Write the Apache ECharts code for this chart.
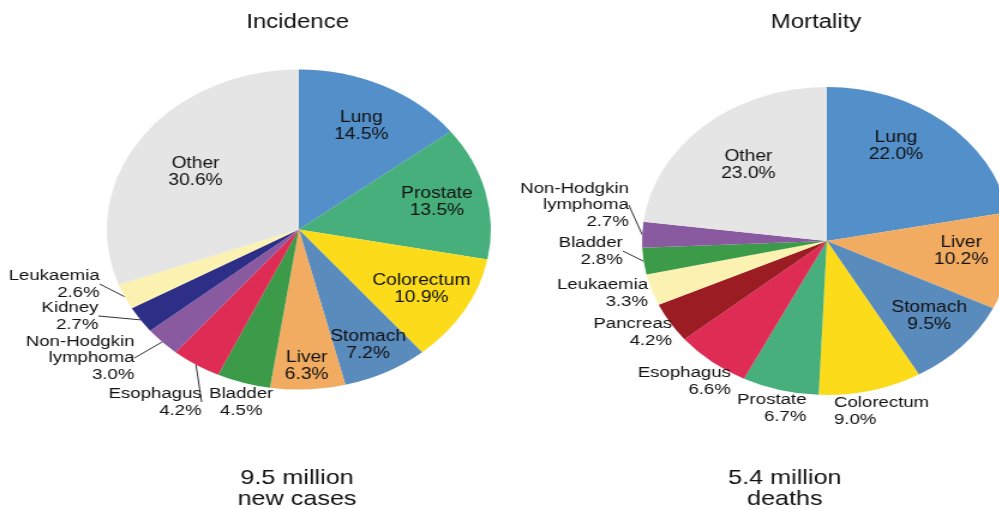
<!DOCTYPE html>
<html>
<head>
<meta charset="utf-8">
<title>Cancer incidence and mortality</title>
<script src="https://cdn.jsdelivr.net/npm/echarts@6/dist/echarts.min.js"></script>
<style>
  html, body { margin: 0; padding: 0; background: #fff; width: 999px; height: 509px; overflow: hidden; }
  /* the source figure is stretched 1.2x horizontally, so draw narrow and stretch */
  #chart { width: 833px; height: 509px; transform: scaleX(1.2); transform-origin: 0 0; }
</style>
</head>
<body>
<div id="chart"></div>
<script>
// data (percent of total)
const incidenceSites = ["Lung", "Prostate", "Colorectum", "Stomach", "Liver", "Bladder", "Esophagus", "Non-Hodgkin lymphoma", "Kidney", "Leukaemia", "Other"];
const incidencePct = [14.5, 13.5, 10.9, 7.2, 6.3, 4.5, 4.2, 3.0, 2.7, 2.6, 30.6];
const mortalitySites = ["Lung", "Liver", "Stomach", "Colorectum", "Prostate", "Esophagus", "Pancreas", "Leukaemia", "Bladder", "Non-Hodgkin lymphoma", "Other"];
const mortalityPct = [22.0, 10.2, 9.5, 9.0, 6.7, 6.6, 4.2, 3.3, 2.8, 2.7, 23.0];
const panelTitles = ["Incidence", "Mortality"];
const panelTotals = ["9.5 million\nnew cases", "5.4 million\ndeaths"];

const ink = "#111";
const font = "'Liberation Sans', Arial, Helvetica, sans-serif";

const siteColor = {
  "Lung": "#5390ca",
  "Prostate": "#47af7c",
  "Colorectum": "#fcdc1a",
  "Stomach": "#5a8bbd",
  "Liver": "#f2ac62",
  "Bladder": "#3b9b48",
  "Esophagus": "#df2c55",
  "Non-Hodgkin lymphoma": "#8a5aa1",
  "Kidney": "#2d2f87",
  "Leukaemia": "#fbf2b2",
  "Pancreas": "#9b1d23",
  "Other": "#e5e5e5",
};

// layout of each panel (chart px, before the horizontal stretch)
const panels = [
  {
    sites: incidenceSites, pct: incidencePct, center: [249, 229.5], r: 160, titleX: 248, totalX: 247.5,
    inside: ["Lung", "Prostate", "Colorectum", "Stomach", "Liver", "Other"],
    nudge: { "Lung": [0, 3], "Stomach": [4, 10], "Liver": [1, 18], "Other": [11, 10] },
    outside: {
      "Leukaemia": { x: 83, y: 284, align: "right", line: true },
      "Kidney": { x: 82, y: 316, align: "right", line: true },
      "Non-Hodgkin lymphoma": { x: 112, y: 358, align: "right", line: true },
      "Esophagus": { x: 168, y: 402, align: "right", line: true },
      "Bladder": { x: 201, y: 402, align: "center", line: false },
    },
  },
  {
    sites: mortalitySites, pct: mortalityPct, center: [689, 241], r: 154, titleX: 680, totalX: 654,
    inside: ["Lung", "Liver", "Stomach", "Other"],
    nudge: { "Lung": [-15, -7], "Liver": [-1, -5], "Stomach": [2, -3], "Other": [10, 10] },
    outside: {
      "Non-Hodgkin lymphoma": { x: 524, y: 205, align: "right", line: true },
      "Bladder": { x: 519, y: 251, align: "right", line: true },
      "Leukaemia": { x: 540, y: 293, align: "right", line: false },
      "Pancreas": { x: 560, y: 332, align: "right", line: false },
      "Esophagus": { x: 609, y: 381, align: "right", line: false },
      "Prostate": { x: 672, y: 408, align: "right", line: false },
      "Colorectum": { x: 695, y: 411, align: "left", line: false },
    },
  },
];

const labelText = (p) => p.name.replace(" ", "\n") + "\n" + p.value.toFixed(1) + "%";

const series = [];
const titles = [];
panels.forEach((pn, k) => {
  // the visible pie, with the leader-line labels
  series.push({
    type: "pie",
    center: pn.center,
    radius: pn.r,
    startAngle: 90,
    clockwise: true,
    silent: true,
    animation: false,
    data: pn.sites.map((s, i) => ({
      name: s,
      value: pn.pct[i],
      itemStyle: { color: siteColor[s] },
      label: { show: !!pn.outside[s] },
      labelLine: { show: !!(pn.outside[s] && pn.outside[s].line) },
    })),
    label: {
      position: "outside",
      formatter: labelText,
      fontFamily: font,
      fontSize: 15.5,
      lineHeight: 16.5,
      color: ink,
    },
    labelLine: { length: 4, length2: 0, lineStyle: { color: "#333", width: 1 } },
    labelLayout: (p) => {
      const o = pn.outside[pn.sites[p.dataIndex]];
      if (!o) return {};
      return { x: o.x, y: o.y, align: o.align, verticalAlign: "middle" };
    },
  });
  // transparent ring, only carries the in-slice labels
  series.push({
    type: "pie",
    center: pn.center,
    radius: [pn.r * 0.48 - 6, pn.r],
    startAngle: 90,
    clockwise: true,
    silent: true,
    animation: false,
    itemStyle: { color: "rgba(0,0,0,0)" },
    data: pn.sites.map((s, i) => ({
      name: s,
      value: pn.pct[i],
      label: { show: pn.inside.includes(s) },
    })),
    label: {
      position: "inside",
      formatter: labelText,
      fontFamily: font,
      fontSize: 16,
      lineHeight: 17,
      color: ink,
    },
    labelLine: { show: false },
    labelLayout: (p) => {
      const n = pn.nudge[pn.sites[p.dataIndex]];
      return n ? { dx: n[0], dy: n[1] } : {};
    },
  });
  titles.push({
    text: panelTitles[k], left: pn.titleX, top: 12, textAlign: "center", padding: 0,
    textStyle: { fontFamily: font, fontSize: 20, fontWeight: "normal", color: ink },
  });
  titles.push({
    text: panelTotals[k], left: pn.totalX, top: 467.5, textAlign: "center", padding: 0,
    textStyle: { fontFamily: font, fontSize: 21, lineHeight: 21, fontWeight: "normal", color: ink },
  });
});

const chart = echarts.init(document.getElementById("chart"));
chart.setOption({
  backgroundColor: "#fff",
  animation: false,
  title: titles,
  series: series,
});
</script>
</body>
</html>
